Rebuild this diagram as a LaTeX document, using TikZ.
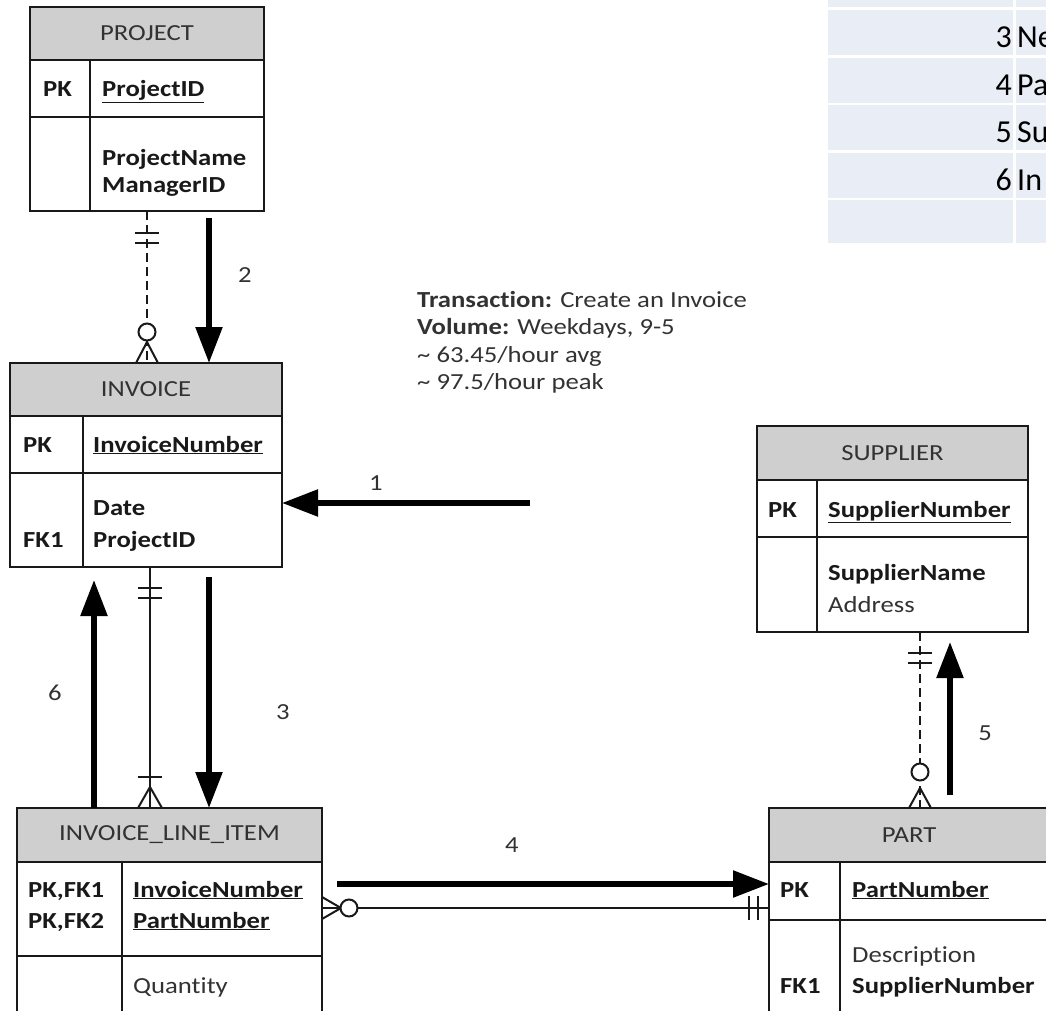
\documentclass[tikz,border=0pt]{standalone}
\usepackage{fontspec}
\setmainfont{Carlito}[FakeStretch=1.16,Ligatures=NoCommon]
\newfontfamily\tblfont{Carlito}
\usetikzlibrary{arrows.meta}
\definecolor{hdrgray}{RGB}{207,207,207}
\definecolor{tblblue}{RGB}{233,237,245}
\definecolor{inkgray}{RGB}{50,50,50}
\newcommand\erfont{\fontsize{23}{27}\selectfont}
\begin{document}
\begin{tikzpicture}[x=1pt,y=-1pt,ebox/.style={draw=black!90,line width=1.8pt,inner sep=0pt,outer sep=0pt},ehead/.style={ebox,fill=hdrgray,font=\erfont,text=inkgray},fld/.style={anchor=base west,inner sep=0pt,font=\erfont\bfseries,text=black!90},fldn/.style={fld,font=\erfont,text=inkgray},rel/.style={line width=2pt,draw=black!90},dashrel/.style={rel,dash pattern=on 9pt off 5pt},flow/.style={line width=5.5pt,-{Triangle[length=36pt,width=26pt]}},lbl/.style={font=\erfont,text=inkgray},cellnum/.style={anchor=base east,inner sep=0pt,font=\tblfont\fontsize{32}{36}\selectfont},celltxt/.style={cellnum,anchor=base west}]
\useasboundingbox (0,0) rectangle (1046,1011);
\clip (0,0) rectangle (1046,1011);

% legend table, top right
\fill[tblblue] (828,0) rectangle (1013,7);
\fill[tblblue] (1016,0) rectangle (1050,7);
\foreach \n/\t/\y in {3/Ne/10,4/Pa/58,5/Su/105,6/In/153}{
  \fill[tblblue] (828,\y) rectangle (1013,\y+45);
  \fill[tblblue] (1016,\y) rectangle (1050,\y+45);
  \node[cellnum] (num\n) at (1012,\y+38) {\n};
  \node[celltxt] (txt\n) at (1017,\y+38) {\t};
}
\fill[tblblue] (828,200) rectangle (1013,243);
\fill[tblblue] (1016,200) rectangle (1050,243);

% PROJECT
\node[ehead,anchor=north west,minimum width=234pt,minimum height=53pt] (projH) at (30,7) {PROJECT};
\node[ebox,anchor=north west,minimum width=234pt,minimum height=151pt] (proj) at (projH.south west) {};
\draw[ebox] (30,117) -- (264,117) (90,60) -- (90,211);
\node[fld] (projPK) at (43,97) {PK};
\node[fld] (projID) at (102,97) {\underline{ProjectID}};
\node[fld] (projName) at (102,166) {ProjectName};
\node[fld] (projMgr) at (102,193) {ManagerID};

% INVOICE
\node[ehead,anchor=north west,minimum width=272pt,minimum height=53pt] (invH) at (10,363) {INVOICE};
\node[ebox,anchor=north west,minimum width=272pt,minimum height=151pt] (inv) at (invH.south west) {};
\draw[ebox] (10,473) -- (282,473) (83,416) -- (83,567);
\node[fld] (invPK) at (23,452) {PK};
\node[fld] (invNum) at (93,452) {\underline{InvoiceNumber}};
\node[fld] (invDate) at (93,515) {Date};
\node[fld] (invFK) at (23,547) {FK1};
\node[fld] (invProj) at (93,547) {ProjectID};

% INVOICE_LINE_ITEM
\node[ehead,anchor=north west,minimum width=305pt,minimum height=54pt] (iliH) at (17,808) {INVOICE\_LINE\_ITEM};
\node[ebox,anchor=north west,minimum width=305pt,minimum height=230pt] (ili) at (iliH.south west) {};
\draw[ebox] (17,956) -- (322,956) (122,862) -- (122,1040);
\node[fld] (iliK1) at (28,897) {PK,FK1};
\node[fld] (iliK2) at (28,928) {PK,FK2};
\node[fld] (iliInv) at (133,897) {\underline{InvoiceNumber}};
\node[fld] (iliPart) at (133,928) {\underline{PartNumber}};
\node[fldn] (iliQty) at (133,993) {Quantity};

% SUPPLIER
\node[ehead,anchor=north west,minimum width=271pt,minimum height=54pt] (supH) at (757,426) {SUPPLIER};
\node[ebox,anchor=north west,minimum width=271pt,minimum height=152pt] (sup) at (supH.south west) {};
\draw[ebox] (757,537) -- (1028,537) (817,480) -- (817,632);
\node[fld] (supPK) at (768,517) {PK};
\node[fld] (supNum) at (828,517) {\underline{SupplierNumber}};
\node[fld] (supName) at (828,580) {SupplierName};
\node[fldn] (supAddr) at (828,612) {Address};

% PART
\node[ehead,anchor=north west,minimum width=280pt,minimum height=54pt] (partH) at (769,808) {PART};
\node[ebox,anchor=north west,minimum width=280pt,minimum height=230pt] (part) at (partH.south west) {};
\draw[ebox] (769,920) -- (1049,920) (840,862) -- (840,1040);
\node[fld] (partPK) at (780,897) {PK};
\node[fld] (partNum) at (852,897) {\underline{PartNumber}};
\node[fldn] (partDesc) at (852,962) {Description};
\node[fld] (partFK) at (780,993) {FK1};
\node[fld] (partSup) at (852,993) {SupplierNumber};

% transaction note
\node[fldn] (note1) at (417,307) {\textbf{Transaction:} Create an Invoice};
\node[fldn] (note2) at (417,334.5) {\textbf{Volume:} Weekdays, 9-5};
\node[fldn] (note3) at (417,362) {\char`\~\ 63.45/hour avg};
\node[fldn] (note4) at (417,389.5) {\char`\~\ 97.5/hour peak};

% PROJECT -- INVOICE
\draw[dashrel] (proj.south) -- (proj.south |- invH.north);
\draw[rel] (135,233) -- (159,233) (135,243) -- (159,243);
\draw[rel] (136,363) -- (147,342) -- (158,363);
\draw[rel,fill=white] (147,332) circle[radius=8.5pt];

% INVOICE -- INVOICE_LINE_ITEM
\coordinate (r2) at (150,567);
\draw[rel] (r2) -- (r2 |- iliH.north);
\draw[rel] (138,588) -- (162,588) (138,598) -- (162,598);
\draw[rel] (138,777) -- (162,777);
\draw[rel] (138,808) -- (150,787) -- (162,808);

% INVOICE_LINE_ITEM -- PART
\coordinate (r3) at (322,908);
\draw[rel] (r3) -- (r3 -| part.west);
\draw[rel] (322,897) -- (341,908) -- (322,919);
\draw[rel,fill=white] (349,908) circle[radius=8.5pt];
\draw[rel] (749,896) -- (749,920) (758,896) -- (758,920);

% SUPPLIER -- PART
\coordinate (r4) at (920,632);
\draw[dashrel] (r4) -- (r4 |- partH.north);
\draw[rel] (908,653) -- (932,653) (908,663) -- (932,663);
\draw[rel,fill=white] (920,772) circle[radius=8.5pt];
\draw[rel] (909,808) -- (920,788) -- (931,808);

% access path
\coordinate (f1) at (530,503);
\draw[flow] (f1) -- (f1 -| inv.east);
\node[lbl] (l1) at (376,483) {1};
\coordinate (f2) at (209,218);
\draw[flow] (f2) -- (f2 |- invH.north);
\node[lbl] (l2) at (245,275) {2};
\coordinate (f3) at (209,577);
\draw[flow] (f3) -- (f3 |- iliH.north);
\node[lbl] (l3) at (283,712) {3};
\coordinate (f4) at (337,884);
\draw[flow] (f4) -- (f4 -| part.west);
\node[lbl] (l4) at (512,845) {4};
\coordinate (f5a) at (950,795);
\coordinate (f5b) at (950,642);
\draw[flow] (f5a) -- (f5b);
\node[lbl] (l5) at (985,733) {5};
\coordinate (f6) at (94,580);
\draw[flow] (f6 |- iliH.north) -- (f6);
\node[lbl] (l6) at (55,693) {6};
\end{tikzpicture}
\end{document}
